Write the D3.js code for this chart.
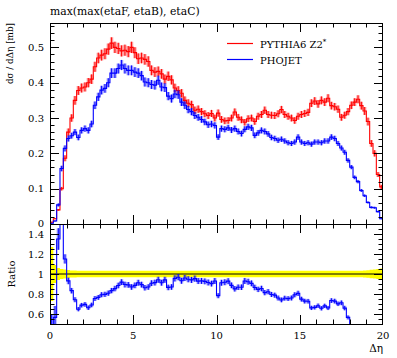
<!DOCTYPE html>
<html><head><meta charset="utf-8">
<script src="https://cdn.jsdelivr.net/npm/d3@7"></script>
<style>
body{margin:0;background:#fff}
svg text{font-family:"DejaVu Serif",serif}
</style>
</head><body><svg id="c" width="397" height="358"></svg>
<script>
const title = "max(max(etaF, etaB), etaC)";
const seriesNames = ["PYTHIA6 Z2", "PHOJET"];
const binWidth = 0.2;
const xDomain = [0, 20];
const xTicks = [0, 5, 10, 15, 20];
const xTickLabels = ["0", "5", "10", "15", "20"];
const yTicksMain = [0, 0.1, 0.2, 0.3, 0.4, 0.5];
const yTickLabelsMain = ["0", "0.1", "0.2", "0.3", "0.4", "0.5"];
const yTicksRatio = [0.6, 0.8, 1, 1.2, 1.4];
const yTickLabelsRatio = ["0.6", "0.8", "1", "1.2", "1.4"];

// PYTHIA6 Z2* (red), one value per 0.2-wide bin in Δη from 0 to 20
const pythia = [
 0.005,0.015,0.040,0.100,0.186,0.260,0.300,0.350,0.378,0.385,
 0.388,0.400,0.410,0.445,0.470,0.478,0.482,0.495,0.512,0.500,
 0.497,0.490,0.492,0.488,0.500,0.485,0.468,0.470,0.466,0.460,
 0.435,0.430,0.432,0.425,0.410,0.418,0.408,0.385,0.378,0.370,
 0.350,0.342,0.338,0.322,0.325,0.318,0.312,0.307,0.313,0.300,
 0.314,0.296,0.292,0.293,0.300,0.317,0.302,0.295,0.288,0.298,
 0.300,0.290,0.305,0.310,0.322,0.310,0.308,0.307,0.312,0.324,
 0.310,0.305,0.300,0.293,0.305,0.310,0.313,0.316,0.342,0.348,
 0.340,0.350,0.345,0.356,0.335,0.332,0.325,0.302,0.308,0.318,
 0.336,0.345,0.353,0.335,0.320,0.290,0.228,0.200,0.140,0.105
];
// PHOJET (blue)
const phojet = [
 0.002,0.0085,0.054,0.157,0.214,0.242,0.250,0.260,0.245,0.265,
 0.270,0.265,0.283,0.336,0.360,0.379,0.384,0.400,0.427,0.427,
 0.440,0.450,0.440,0.435,0.435,0.430,0.427,0.420,0.402,0.400,
 0.395,0.393,0.407,0.388,0.386,0.362,0.355,0.368,0.366,0.345,
 0.336,0.324,0.318,0.307,0.302,0.296,0.289,0.281,0.283,0.279,
 0.246,0.270,0.268,0.272,0.266,0.270,0.262,0.256,0.268,0.275,
 0.272,0.251,0.258,0.265,0.262,0.255,0.245,0.242,0.237,0.240,
 0.235,0.230,0.228,0.232,0.246,0.232,0.228,0.230,0.226,0.232,
 0.232,0.230,0.235,0.235,0.246,0.242,0.228,0.215,0.203,0.180,
 0.161,0.132,0.120,0.095,0.080,0.061,0.047,0.046,0.035,0.015
];
// relative statistical uncertainties
const pythiaRelErr = [
 0.27,0.09,0.06,0.05,0.045,0.04,0.035,0.035,0.033,0.033,
 0.033,0.033,0.033,0.032,0.032,0.032,0.032,0.032,0.032,0.032,
 0.032,0.032,0.032,0.032,0.032,0.032,0.032,0.032,0.032,0.032,
 0.032,0.032,0.032,0.032,0.032,0.032,0.032,0.032,0.032,0.032,
 0.032,0.032,0.032,0.032,0.032,0.032,0.032,0.032,0.032,0.032,
 0.032,0.032,0.032,0.032,0.032,0.032,0.032,0.032,0.032,0.032,
 0.032,0.032,0.032,0.032,0.032,0.032,0.032,0.032,0.032,0.032,
 0.032,0.032,0.032,0.032,0.032,0.032,0.032,0.032,0.032,0.032,
 0.032,0.032,0.032,0.032,0.032,0.032,0.032,0.032,0.032,0.032,
 0.032,0.032,0.032,0.033,0.035,0.038,0.042,0.045,0.05,0.055
];
const phojetRelErr = [
 0.5,0.2,0.08,0.05,0.04,0.035,0.033,0.033,0.033,0.033,
 0.033,0.033,0.033,0.032,0.032,0.032,0.032,0.032,0.032,0.032,
 0.032,0.032,0.032,0.032,0.032,0.032,0.032,0.032,0.032,0.032,
 0.032,0.032,0.032,0.032,0.032,0.032,0.032,0.032,0.032,0.032,
 0.032,0.032,0.032,0.032,0.032,0.032,0.032,0.032,0.032,0.032,
 0.032,0.032,0.032,0.032,0.032,0.032,0.032,0.032,0.032,0.032,
 0.032,0.032,0.032,0.032,0.032,0.032,0.032,0.032,0.032,0.032,
 0.032,0.032,0.032,0.032,0.032,0.032,0.032,0.032,0.032,0.032,
 0.032,0.032,0.032,0.032,0.032,0.032,0.032,0.033,0.034,0.035,
 0.036,0.038,0.04,0.043,0.046,0.05,0.06,0.06,0.07,0.1
];

const L = 50, R = 383, T = 23, MB = 224, RB = 324;
const svg = d3.select("#c");
const x = d3.scaleLinear(xDomain, [L, R]);
const y = d3.scaleLinear([0, 0.569], [MB, T]);
const yr = d3.scaleLinear([0.5, 1.5], [RB, MB]);

const defs = svg.append("defs");
defs.append("clipPath").attr("id", "cm").append("rect").attr("x", L).attr("y", T).attr("width", R - L).attr("height", MB - T);
defs.append("clipPath").attr("id", "cr").append("rect").attr("x", L).attr("y", MB).attr("width", R - L).attr("height", RB - MB);

function bins(vals, rel) {
  return vals.map((v, i) => ({lo: i * binWidth, hi: (i + 1) * binWidth, v, e: v * rel[i]}));
}
function stepPts(b) {
  const p = [];
  b.forEach(d => { p.push(d); p.push({...d, lo: d.hi}); });
  return p;
}
const red = "#ff0000", blue = "#0000ff";

function drawSeries(g, b, ys, color, band) {
  const pts = stepPts(b);
  const ar = d3.area().x(d => x(d.lo)).y0(d => ys(d.v - d.e)).y1(d => ys(d.v + d.e));
  g.append("path").attr("d", ar(pts)).attr("fill", band).attr("stroke", "none");
  g.selectAll(null).data(b).enter().append("line")
    .attr("x1", d => x((d.lo + d.hi) / 2)).attr("x2", d => x((d.lo + d.hi) / 2))
    .attr("y1", d => ys(d.v - d.e)).attr("y2", d => ys(d.v + d.e))
    .attr("stroke", color).attr("stroke-width", 1);
  const ln = d3.line().x(d => x(d.lo)).y(d => ys(d.v));
  g.append("path").attr("d", ln(pts)).attr("fill", "none").attr("stroke", color).attr("stroke-width", 1.1);
}

const gm = svg.append("g").attr("clip-path", "url(#cm)");
const bRed = bins(pythia, pythiaRelErr), bBlue = bins(phojet, phojetRelErr);
drawSeries(gm, bRed, y, red, "rgba(255,0,0,0.35)");
drawSeries(gm, bBlue, y, blue, "rgba(0,0,255,0.35)");

const gr = svg.append("g").attr("clip-path", "url(#cr)");
const refBand = bRed.map(d => ({lo: d.lo, hi: d.hi, v: 1, e: d.e / d.v}));
gr.append("path").attr("d", d3.area().x(d => x(d.lo)).y0(d => yr(d.v - d.e)).y1(d => yr(d.v + d.e))(stepPts(refBand)))
  .attr("fill", "#ffff00").attr("stroke", "none");
gr.append("line").attr("x1", L).attr("x2", R).attr("y1", yr(1)).attr("y2", yr(1)).attr("stroke", "#000").attr("stroke-width", 1);
const ratio = bBlue.map((d, i) => ({lo: d.lo, hi: d.hi, v: d.v / bRed[i].v, e: (d.v / bRed[i].v) * phojetRelErr[i]}));
drawSeries(gr, ratio, yr, blue, "rgba(0,0,255,0.35)");

[[T, MB], [MB, RB]].forEach(([t, b]) => {
  svg.append("rect").attr("x", L + 0.5).attr("y", t + 0.5).attr("width", R - L - 1).attr("height", b - t)
    .attr("fill", "none").attr("stroke", "#000").attr("stroke-width", 1);
});

const tk = svg.append("g").attr("stroke", "#000").attr("stroke-width", 1);
function hline(x1, x2, yy) { tk.append("line").attr("x1", x1).attr("x2", x2).attr("y1", yy).attr("y2", yy); }
function vline(xx, y1, y2) { tk.append("line").attr("x1", xx).attr("x2", xx).attr("y1", y1).attr("y2", y2); }
const maj = 9, mnr = 4.5;
d3.range(0, 21, 1).forEach(v => {
  const len = v % 5 === 0 ? maj : mnr;
  const xx = Math.round(x(v)) + 0.5;
  if (v === 0 || v === 20) return;
  [[T, 1], [MB, -1], [MB, 1], [RB, -1]].forEach(([yy, s]) => vline(xx, yy, yy + s * len));
});
d3.range(0, 0.5601, 0.02).forEach((v, i) => {
  const len = i % 5 === 0 ? maj : mnr;
  const yy = Math.round(y(v)) + 0.5;
  if (yy <= T + 1 || yy >= MB) return;
  hline(L, L + len, yy); hline(R, R - len, yy);
});
d3.range(0.55, 1.5, 0.05).forEach(v => {
  const isMaj = Math.abs(v * 5 - Math.round(v * 5)) < 1e-6;
  const len = isMaj ? maj : mnr;
  const yy = Math.round(yr(v)) + 0.5;
  if (yy <= MB + 1 || yy >= RB) return;
  hline(L, L + len, yy); hline(R, R - len, yy);
});

const fs = 10;
function txt(xx, yy, s, anchor, size) {
  return svg.append("text").attr("x", xx).attr("y", yy).attr("text-anchor", anchor || "start").attr("font-size", size || fs).attr("fill", "#000").text(s);
}
yTicksMain.forEach((v, i) => txt(44, y(v) + (v === 0 ? 2.5 : 3.5), yTickLabelsMain[i], "end"));
yTicksRatio.forEach((v, i) => txt(44, yr(v) + 3.5, yTickLabelsRatio[i], "end"));
xTicks.forEach((v, i) => txt(x(v), 339, xTickLabels[i], "middle"));

txt(50, 15, title, "start", 10.8);
txt(R, 352, "Δη", "end", 10.5);
svg.append("text").attr("transform", "translate(13,23) rotate(-90)").attr("text-anchor", "end").attr("font-size", 8.8).text("dσ / dΔη [mb]");
svg.append("text").attr("transform", "translate(15,274) rotate(-90)").attr("text-anchor", "middle").attr("font-size", fs).text("Ratio");

const leg = [[seriesNames[0], red, 43.5, true], [seriesNames[1], blue, 59.5, false]];
leg.forEach(([name, c, yy, star]) => {
  svg.append("line").attr("x1", 227).attr("x2", 253).attr("y1", yy).attr("y2", yy).attr("stroke", c).attr("stroke-width", 1.2);
  const t = txt(260, yy + 4, name);
  if (star) t.append("tspan").attr("dy", -4).attr("font-size", 7).text("*");
});
</script>
</body></html>
